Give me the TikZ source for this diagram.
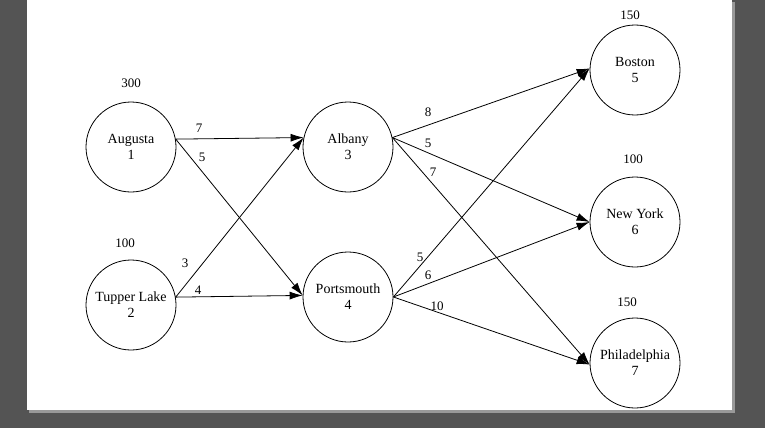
\documentclass[tikz,border=0pt]{standalone}
\usepackage{fontspec}
\setmainfont{Liberation Serif}
\usetikzlibrary{arrows.meta}
\begin{document}
\begin{tikzpicture}[x=1pt,y=-1pt,
  city/.style={circle,draw,line width=0.8pt,minimum size=90pt,inner sep=0pt,align=center,font=\fontsize{14}{16}\selectfont},
  lbl/.style={font=\fontsize{13}{15}\selectfont},
  flow/.style={-{Latex[length=13pt,width=8pt]},line width=0.8pt}]
\fill[black!70!gray,fill=black!67] (0,0) rectangle (765,428);
\fill[black!40] (29,2) rectangle (735,413);
\fill[white] (27,0) rectangle (732,410);
\useasboundingbox (0,0) rectangle (765,428);
\node[city] (a) at (131,147) {Augusta\\1};
\node[city] (t) at (131,305) {Tupper Lake\\2};
\node[city] (al) at (348,147) {Albany\\3};
\node[city] (p) at (348,297) {Portsmouth\\4};
\node[city] (b) at (635,70) {Boston\\5};
\node[city] (n) at (635,222) {New York\\6};
\node[city] (ph) at (635,363) {Philadelphia\\7};
\node[lbl] (sa) at (131,83) {300};
\node[lbl] (st) at (125,243) {100};
\node[lbl] (sb) at (630,15) {150};
\node[lbl] (sn) at (633,159) {100};
\node[lbl] (sp) at (627,302) {150};
\draw[flow] (a.10) -- (al.168);
\draw[flow] (a.10) -- (p.178);
\draw[flow] (t.10) -- (al.168);
\draw[flow] (t.10) -- (p.178);
\draw[flow] (al.12) -- (b.178);
\draw[flow] (al.12) -- (n.180);
\draw[flow] (al.12) -- (ph.182);
\draw[flow] (p.0) -- (b.178);
\draw[flow] (p.0) -- (n.180);
\draw[flow] (p.0) -- (ph.182);
\node[lbl] (e1) at (199,128) {7};
\node[lbl] (e2) at (202,157) {5};
\node[lbl] (e3) at (185,263) {3};
\node[lbl] (e4) at (198,290) {4};
\node[lbl] (e5) at (428,112) {8};
\node[lbl] (e6) at (428,143) {5};
\node[lbl] (e7) at (433,172) {7};
\node[lbl] (e8) at (420,257) {5};
\node[lbl] (e9) at (428,275) {6};
\node[lbl] (e10) at (437,306) {10};
\end{tikzpicture}
\end{document}
